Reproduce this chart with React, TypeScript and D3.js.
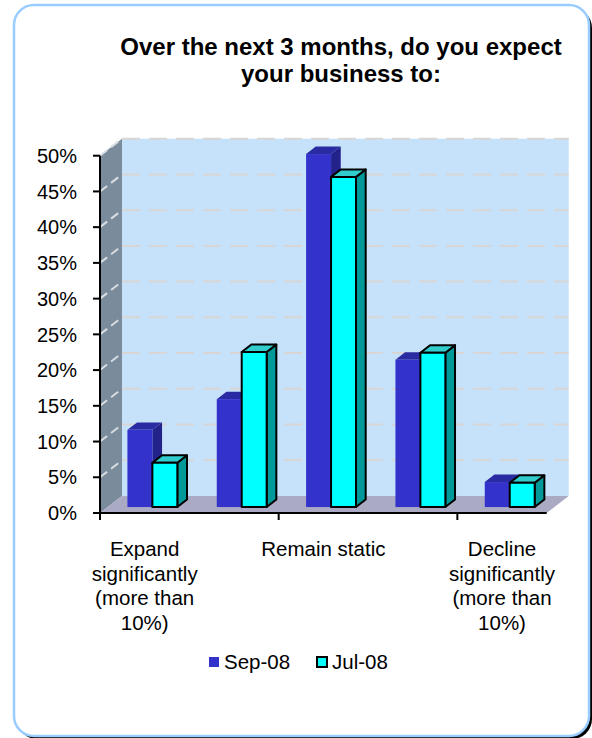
import React from "react";
import * as d3 from "d3";

const categories = ["Expand significantly", "Expand moderately", "Remain static", "Decline moderately", "Decline significantly"];
const categoryLabels: string[][] = [
  ["Expand", "significantly", "(more than", "10%)"],
  [],
  ["Remain static"],
  [],
  ["Decline", "significantly", "(more than", "10%)"],
];
const seriesNames = ["Sep-08", "Jul-08"];
const sep08 = [10.8, 15.1, 49.4, 20.6, 3.5];
const jul08 = [6.2, 21.7, 46.2, 21.6, 3.4];
const yTicks = [0, 5, 10, 15, 20, 25, 30, 35, 40, 45, 50];
const titleLines = ["Over the next 3 months, do you expect", "your business to:"];

const FONT = "'Liberation Sans', Arial, Helvetica, sans-serif";

const colors = {
  "Sep-08": { front: "#3333cc", top: "#2a2aa2", side: "#22228a", stroke: "none" },
  "Jul-08": { front: "#00ffff", top: "#33cccc", side: "#009999", stroke: "#000000" },
} as Record<string, { front: string; top: string; side: string; stroke: string }>;

export default function App() {
  const W = 592, H = 738;
  const left = 100, right = 546.7;
  const y = d3.scaleLinear().domain([0, 50]).range([513, 155.7]);
  const x = d3.scaleBand<string>().domain(categories).range([left, right]).paddingInner(0).paddingOuter(0);
  const x1 = d3.scaleBand<string>().domain(seriesNames).range([0, x.bandwidth()]).paddingInner(0).paddingOuter(0.79);
  const DX = 22, DY = -17; // full depth offset
  const t0 = 0.35, t1 = 0.79;
  const fx = DX * t0, fy = DY * t0;
  const bx = DX * t1, by = DY * t1;
  const ddx = bx - fx, ddy = by - fy;

  const y0 = y(0), yTop = y(50);
  const pts = (a: number[][]) => a.map((p) => p.join(",")).join(" ");

  const data = [sep08, jul08];

  return (
    <svg width={W} height={H} style={{ position: "absolute", left: 0, top: 0 }} fontFamily={FONT}>
      {/* card */}
      <rect x={17} y={8} width={575} height={731} rx={20} fill="#000" />
      <rect x={14} y={5} width={575} height={731} rx={20} fill="#fff" stroke="#99ccff" strokeWidth={2.5} />

      {/* title */}
      {titleLines.map((l, i) => (
        <text key={i} x={341} y={55 + i * 27} textAnchor="middle" fontWeight="bold" fontSize={24} fill="#000">
          {l}
        </text>
      ))}

      {/* back wall */}
      <rect x={left + DX} y={yTop + DY} width={right - left} height={y0 - yTop} fill="#c6e2fb" />
      {/* side wall */}
      <polygon points={pts([[left, y0], [left + DX, y0 + DY], [left + DX, yTop + DY], [left, yTop]])} fill="#7a8b9c" />
      {/* floor */}
      <polygon points={pts([[left, y0], [right, y0], [right + DX, y0 + DY], [left + DX, y0 + DY]])} fill="#aaaac4" />

      {/* gridlines */}
      {yTicks.filter((v) => v > 0).map((v) => (
        <g key={v}>
          <line x1={left + DX} x2={right + DX} y1={y(v) + DY} y2={y(v) + DY} stroke="#d8d6d4" strokeWidth={2} strokeDasharray="18 9" />
          <line x1={left} x2={left + DX} y1={y(v)} y2={y(v) + DY} stroke="#d8dde2" strokeWidth={2} strokeDasharray="9 5" />
        </g>
      ))}

      {/* bars */}
      {categories.map((c, ci) => (
        <g key={c}>
          {seriesNames.map((s, si) => {
            const v = data[si][ci];
            const col = colors[s];
            const xl = (x(c) as number) + (x1(s) as number) + fx;
            const xr = xl + x1.bandwidth();
            const yt = y(v) + fy;
            const yb = y0 + fy;
            const sw = col.stroke === "none" ? 0 : 2;
            return (
              <g key={s} stroke={col.stroke} strokeWidth={sw} strokeLinejoin="round">
                <polygon points={pts([[xr, yt], [xr + ddx, yt + ddy], [xr + ddx, yb + ddy], [xr, yb]])} fill={col.side} />
                <polygon points={pts([[xl, yt], [xr, yt], [xr + ddx, yt + ddy], [xl + ddx, yt + ddy]])} fill={col.top} />
                <rect x={xl} y={yt} width={xr - xl} height={yb - yt} fill={col.front} />
              </g>
            );
          })}
        </g>
      ))}

      {/* y axis */}
      <line x1={left} x2={left} y1={yTop} y2={y0 + 1} stroke="#000" strokeWidth={2} />
      {yTicks.map((v) => (
        <g key={v}>
          <line x1={left - 7} x2={left} y1={y(v)} y2={y(v)} stroke="#000" strokeWidth={2} />
          <text x={77} y={y(v)} dy="0.36em" textAnchor="end" fontSize={20} fill="#000">
            {v}%
          </text>
        </g>
      ))}

      {/* x axis */}
      <line x1={left - 1} x2={right} y1={y0} y2={y0} stroke="#000" strokeWidth={2} />
      {categories.filter((_, i) => i % 2 === 0).map((c) => (
        <line key={c} x1={x(c) as number} x2={x(c) as number} y1={y0} y2={y0 + 7} stroke="#000" strokeWidth={2} />
      ))}
      {categories.map((c, ci) => (
        <text key={c} textAnchor="middle" fontSize={20.5} fill="#000">
          {categoryLabels[ci].map((l, li) => (
            <tspan key={li} x={(x(c) as number) + x.bandwidth() / 2} y={556 + li * 24.5}>
              {l}
            </tspan>
          ))}
        </text>
      ))}

      {/* legend */}
      <rect x={209} y={657} width={10} height={10} fill={colors["Sep-08"].front} />
      <text x={224} y={669} fontSize={20.5} fill="#000">Sep-08</text>
      <rect x={317} y={657} width={10} height={10} fill={colors["Jul-08"].front} stroke="#000" strokeWidth={2} />
      <text x={332} y={669} fontSize={20.5} fill="#000">Jul-08</text>
    </svg>
  );
}
